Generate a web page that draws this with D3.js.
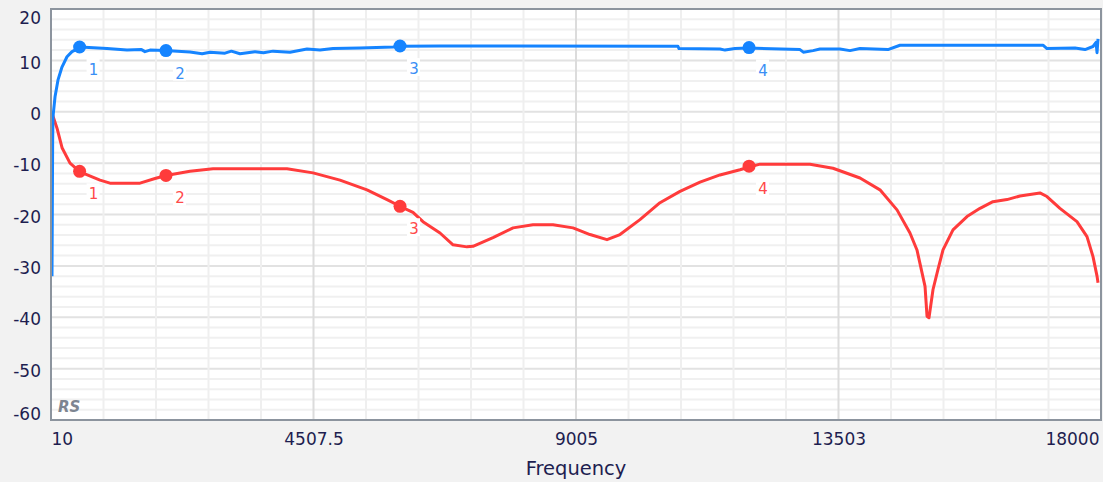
<!DOCTYPE html>
<html>
<head>
<meta charset="utf-8">
<script src="https://cdn.jsdelivr.net/npm/d3@7"></script>
<style>
  body { margin: 0; background: #f2f2f2; }
  svg { display: block; }
  text { font-family: "DejaVu Sans", Verdana, sans-serif; fill: #1e1e50; }
</style>
</head>
<body>
<svg id="chart" width="1103" height="482"></svg>
<script>
/* Data */
var xTickLabels = [10, 4507.5, 9005, 13503, 18000];
var yTickLabels = [-60, -50, -40, -30, -20, -10, 0, 10, 20];

// blue trace (frequency, dB)
var blueFreq = [27, 33, 38, 44, 79, 130, 198, 284, 370, 490, 507, 969, 1312, 1560, 1620, 1706, 1963, 2391,
  2600, 2734, 2991, 3100, 3248, 3505, 3650, 3814, 4105, 4396, 4619, 4842, 5304, 5870, 5990, 6675,
  10752, 10769, 11472, 11558, 11729, 11952, 12843, 12900, 13066, 13185, 13528, 13699, 13871, 14350,
  14556, 17006, 17074, 17554, 17726, 17863, 17915, 17932, 17949];
var blueDb = [-32, -18, -6, -1, 2.9, 6.2, 8.7, 10.7, 11.7, 12.4, 12.6, 12.3, 12.0, 12.1, 11.7, 12.0, 11.9, 11.65,
  11.3, 11.6, 11.4, 11.8, 11.3, 11.7, 11.5, 11.8, 11.6, 12.2, 12.0, 12.3, 12.4, 12.6, 12.75, 12.8,
  12.75, 12.3, 12.2, 12.0, 12.3, 12.4, 12.1, 11.6, 11.9, 12.2, 12.2, 11.9, 12.3, 12.1,
  12.95, 12.95, 12.3, 12.4, 12.1, 12.7, 13.5, 11.5, 14.2];

// red trace (frequency, dB)
var redFreq = [39, 113, 199, 336, 507, 850, 1021, 1535, 1792, 1980, 2391, 2786, 4053, 4499, 4961, 5424,
  5767, 5990, 6212, 6383, 6675, 6898, 7137, 7240, 7583, 7926, 8268, 8611, 8954, 9245, 9536, 9759,
  10101, 10444, 10787, 11130, 11472, 11815, 11986, 12157, 13014, 13408, 13871, 14213, 14505, 14727,
  14847, 14933, 14985, 15019, 15053, 15122, 15207, 15293, 15464, 15704, 15927, 16149, 16389, 16612,
  16954, 17074, 17297, 17588, 17760, 17863, 17932, 17949];
var redDb = [-0.7, -3.2, -7, -10, -11.7, -13.3, -13.9, -13.9, -13.0, -12.4, -11.6, -11.1, -11.1, -11.9, -13.3, -15.2,
  -17.1, -18.4, -19.6, -21.4, -23.6, -25.9, -26.3, -26.2, -24.5, -22.6, -22, -22, -22.6, -23.9, -24.9, -23.9,
  -21, -17.7, -15.5, -13.7, -12.3, -11.3, -10.7, -10.2, -10.2, -11, -12.9, -15.2, -19.1, -23.6,
  -26.9, -31.3, -34, -39.8, -40.1, -34.6, -30.7, -26.9, -23, -20.4, -18.8, -17.5, -17.1, -16.4,
  -15.8, -16.5, -18.8, -21.4, -24.3, -28.2, -32, -33.3];

// cursor markers
var markerFreq = [500, 1980, 5990, 11970];
var markerNames = ["1", "2", "3", "4"];
var blueMarkerDb = [12.6, 11.9, 12.8, 12.5];
var redMarkerDb = [-11.6, -12.4, -18.4, -10.6];

/* Layout */
var svg = d3.select("#chart");
var plotLeft = 51, plotRight = 1101, plotTop = 9, plotBottom = 420;

var x = d3.scaleLinear().domain([10, 18000]).range([plotLeft, plotRight]);
var y = d3.scaleLinear().domain([-60, 20]).range([plotBottom, plotTop]);

svg.append("rect")
  .attr("x", plotLeft).attr("y", plotTop)
  .attr("width", plotRight - plotLeft).attr("height", plotBottom - plotTop)
  .attr("fill", "#ffffff");

//grid: horizontal first, vertical on top so the major verticals stay solid
var grid = svg.append("g").attr("class", "grid");
d3.range(-58, 20, 2).forEach(function (v) {
  var yv = y(v);
  grid.append("line")
    .attr("x1", plotLeft).attr("x2", plotRight).attr("y1", yv).attr("y2", yv)
    .attr("stroke", v % 10 === 0 ? "#e2e2e2" : "#f0f0f0")
    .attr("stroke-width", 2);
});
var xStep = (18000 - 10) / 20;
d3.range(1, 20).forEach(function (i) {
  var xv = x(10 + i * xStep);
  grid.append("line")
    .attr("x1", xv).attr("x2", xv).attr("y1", plotTop).attr("y2", plotBottom)
    .attr("stroke", i % 5 === 0 ? "#dcdcdc" : "#efefef")
    .attr("stroke-width", 2);
});

//traces
var line = d3.line()
  .x(function (d) { return x(d[0]); })
  .y(function (d) { return y(d[1]); });

function drawTrace(freq, db, color) {
  svg.append("path")
    .datum(d3.zip(freq, db))
    .attr("d", line)
    .attr("fill", "none")
    .attr("stroke", color)
    .attr("stroke-width", 3)
    .attr("stroke-linejoin", "round");
}

drawTrace(redFreq, redDb, "#ff3b3b");
drawTrace(blueFreq, blueDb, "#1584ff");

//markers and their numbers
function drawMarkers(db, color, labelColor) {
  var g = svg.append("g");
  markerFreq.forEach(function (f, i) {
    var cx = x(f), cy = y(db[i]);
    g.append("circle")
      .attr("cx", cx).attr("cy", cy).attr("r", 6.5)
      .attr("fill", color);
    g.append("rect")
      .attr("x", cx + 7).attr("y", cy + 12)
      .attr("width", 13).attr("height", 18)
      .attr("fill", "#ffffff");
    g.append("text")
      .attr("x", cx + 14).attr("y", cy + 28)
      .attr("text-anchor", "middle")
      .style("font-size", "15px")
      .style("fill", labelColor)
      .text(markerNames[i]);
  });
}

drawMarkers(redMarkerDb, "#ff3b3b", "#ff4a4a");
drawMarkers(blueMarkerDb, "#1584ff", "#3a8ff5");

//frame
svg.append("rect")
  .attr("x", plotLeft).attr("y", plotTop)
  .attr("width", plotRight - plotLeft).attr("height", plotBottom - plotTop)
  .attr("fill", "none")
  .attr("stroke", "#8c949e")
  .attr("stroke-width", 2);

svg.append("text")
  .attr("x", 58).attr("y", 412)
  .style("font-size", "15px")
  .style("font-weight", "bold")
  .style("font-style", "italic")
  .style("fill", "#7d8591")
  .text("RS");

//axes
var xAxis = svg.append("g")
  .attr("transform", "translate(0," + (plotBottom + 1) + ")")
  .call(d3.axisBottom(x).tickValues(xTickLabels).tickSize(0).tickPadding(12)
    .tickFormat(function (d) { return String(d); }));
xAxis.select(".domain").remove();
xAxis.selectAll("text")
  .style("font-size", "17px")
  .style("fill", "#1e1e50")
  .attr("text-anchor", function (d, i) {
    if (i === 0) return "start";
    if (i === xTickLabels.length - 1) return "end";
    return "middle";
  })
  .attr("dx", function (d, i) {
    if (i === xTickLabels.length - 1) return "-2";
    return "0";
  });

var yAxis = svg.append("g")
  .attr("transform", "translate(" + (plotLeft - 10) + ",0)")
  .call(d3.axisLeft(y).tickValues(yTickLabels).tickSize(0).tickPadding(0)
    .tickFormat(function (d) { return String(d); }));
yAxis.select(".domain").remove();
yAxis.selectAll("text")
  .style("font-size", "17px")
  .style("fill", "#1e1e50")
  .attr("dy", function (d) {
    if (d === 20) return "0.85em";
    if (d === -60) return "-0.05em";
    return "0.45em";
  });

svg.append("text")
  .attr("x", (plotLeft + plotRight) / 2)
  .attr("y", 475)
  .attr("text-anchor", "middle")
  .style("font-size", "19.5px")
  .text("Frequency");
</script>
</body>
</html>
